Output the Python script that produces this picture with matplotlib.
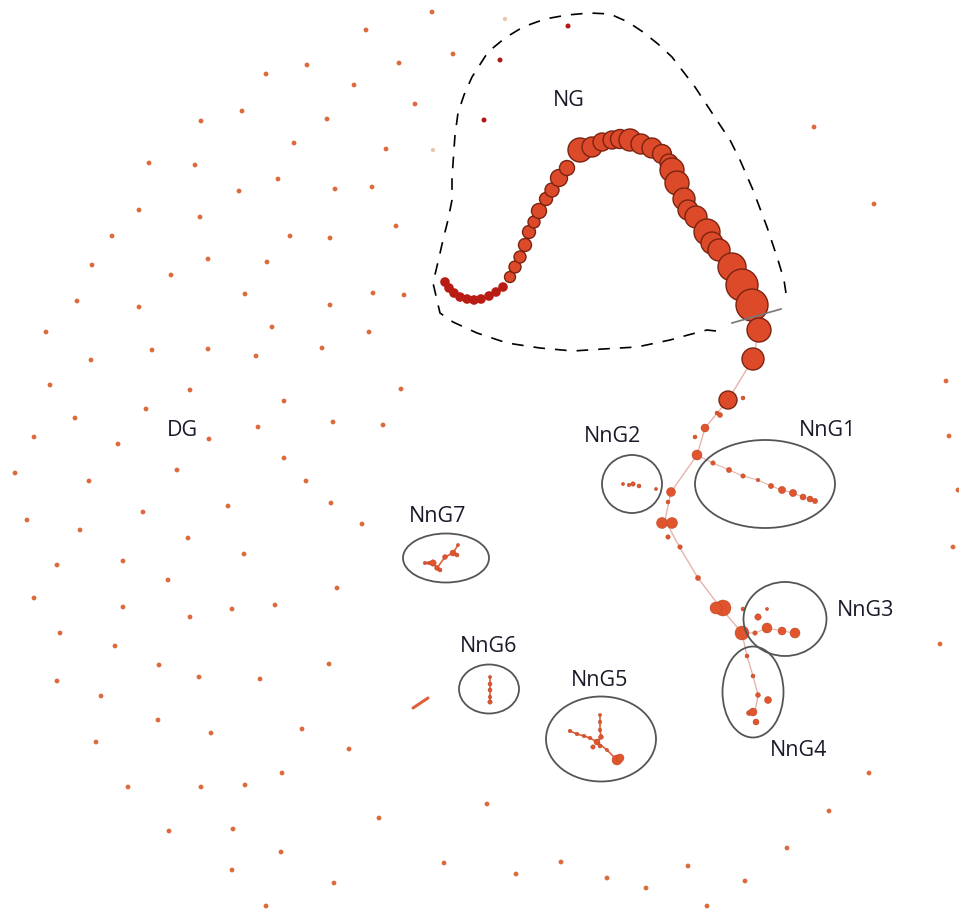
import numpy as np
import matplotlib
matplotlib.use('Agg')
from matplotlib import pyplot as plt
from matplotlib.patches import Ellipse

# positions are in picture pixels (x right, y down)
# scattered DG nodes
dg_x = [432,366,453,307,399,266,354,415,242,201,327,294,386,149,195,278,239,335,372,139,200,396,112,290,330,208,267,92,171,245,373,404,77,139,330,46,272,369,91,152,208,256,322,50,190,401,284,146,75,258,333,383,34,118,209,177,284,15,89,306,27,80,143,228,331,362,188,244,57,123,168,337,34,123,190,232,275,60,115,159,199,260,329,57,101,158,211,302,96,349,282,128,201,245,379,169,233,281,232,334,444,266,487,516,561,607,646,688,745,707,787,829,869,940,953,958,949,946,874,814]
dg_y = [12,30,54,65,63,74,85,104,111,121,119,143,149,163,165,179,191,189,187,210,217,226,236,236,238,259,262,265,275,294,293,295,301,307,305,332,327,332,360,350,349,356,348,385,390,389,401,409,418,427,422,425,437,444,439,470,458,473,481,481,520,530,512,506,503,524,538,554,565,561,580,588,598,607,617,609,605,633,646,665,677,679,664,681,696,720,733,729,742,749,773,787,787,785,818,831,829,852,870,883,863,906,804,874,862,878,888,866,881,906,848,811,773,644,547,490,436,381,204,127]
dg_r = [2.4]*len(dg_x)
# dark red strays inside NG
red_x = [568,500,484]
red_y = [26,60,120]
pale_x = [505,433]
pale_y = [19,150]

# NG tail (dark red) and chain
tail_x = [445,449,454,460,467,474,481,489,496,503]
tail_y = [282,288,293,297,299,300,299,296,292,287]
ng_x = [510,515,520,525,529,534,539,546,552,559,567,580,592,602,612,620,630,641,652,662,669,672,677,684,688,696,707,712,719,732,742,752,759,753,728]
ng_y = [277,267,257,245,232,222,211,199,190,178,168,150,147,142,140,139,140,144,148,154,163,170,183,199,210,217,232,243,250,267,285,305,330,359,400]
ng_r = [5.5,6,6,6.5,6.5,6,7.5,6.5,7,8.5,7.5,12,10,9,9,9.5,11,10,10,9.5,9,12,12,11,10,11,13,11,11,14,16,16,12,11,9]

# trunk below NG and sub-groups
trunk_x = [759,753,728,705,697,671,665,680,698,720,742,747,753,758,755]
trunk_y = [330,359,400,428,455,492,520,548,578,607,633,656,676,695,712]
trunk_nx = [743,720,717,705,695,697,671,668,662,672,668,680,698,723,716,742]
trunk_ny = [398,415,413,428,437,455,492,502,523,523,537,547,578,608,608,633]
trunk_nr = [2,2.5,2,4,2,5,4.5,2,5.5,5.5,2.2,2.2,2.5,8,6,7]

g1_x = [713,729,743,758,771,782,793,803,810,815]
g1_y = [463,470,476,480,486,490,493,497,499,501]
g1_r = [2.2,2.6,2.2,1.8,2.6,3.6,3.6,3,3,2.6]
g2_x = [623,629,633,639,656]
g2_y = [484,485,484,486,489]
g2_r = [1.6,1.8,2.2,2,1.6]
g3_x = [743,758,767,755,767,782,795]
g3_y = [609,617,609,633,628,631,633]
g3_r = [2,3.2,1.6,2.2,5,4,5]
g4_x = [747,753,758,768,749,753,756]
g4_y = [656,676,695,700,713,712,722]
g4_r = [2,2,2.4,3.5,2.5,4,3]
g5_x = [600,600,600,601,570,577,584,590,597,593,600,607,617,620]
g5_y = [715,722,730,737,731,734,736,738,742,747,746,750,760,758]
g5_r = [1.6,1.8,1.8,2.4,1.8,1.8,1.8,1.8,3,2.2,2,1.6,5,4]
g6_x = [490,490,490,490,490]
g6_y = [677,684,690,697,702]
g6_r = [1.6,2,2,1.8,2.2]
g7_x = [425,429,433,437,445,453,458,457,440]
g7_y = [563,563,563,568,557,553,545,555,570]
g7_r = [1.8,1.8,3.2,2.4,2.4,3,1.6,2,2]

# cluster outlines: center x, center y, width, height
ell_cx = [765,632,785,753,601,489,446]
ell_cy = [484,484,619,692,739,689,558]
ell_w = [140,60,83,61,110,60,86]
ell_h = [88,58,74,91,85,49,49]

labels = ['NG','DG','NnG1','NnG2','NnG3','NnG4','NnG5','NnG6','NnG7']
lab_x = [569,182,828,612,866,799,600,489,438]
lab_y = [100,431,431,437,610,750,681,647,516]

# NG dashed boundary
bnd_x = [716,707,688,670,637,603,573,540,507,477,453,440,433,438,443,448,452,452,455,458,464,472,488,505,523,545,567,590,610,628,643,658,672,695,718,730,740,753,767,778,784,787]
bnd_y = [331,330,335,340,347,349,351,348,343,333,322,313,283,262,240,220,200,178,135,113,95,77,52,38,27,19,15,13,14,22,32,44,57,87,122,140,160,190,227,260,280,300]

DPI = 100
W, H = 959, 911
fig = plt.figure(figsize=(W/DPI, H/DPI), dpi=DPI)
ax = fig.add_axes([0, 0, 1, 1])
ax.set_xlim(0, W)
ax.set_ylim(H, 0)
ax.axis('off')

def sz(r):
    # radius in px -> scatter size in pt^2
    return (2*np.asarray(r, float)*72/DPI)**2

edge_c = '#e6b3aa'
ax.plot(trunk_x, trunk_y, color=edge_c, lw=1, zorder=1)
ax.plot([697]+g1_x, [455]+g1_y, color=edge_c, lw=0.8, zorder=1)
ax.plot([742]+g3_x[3:], [633]+g3_y[3:], color=edge_c, lw=0.8, zorder=1)
ax.plot(g5_x[4:9], g5_y[4:9], color='#e0603a', lw=1.2, zorder=1)
ax.plot(g5_x[:4]+[597,607,617], g5_y[:4]+[742,750,760], color='#e0603a', lw=1.2, zorder=1)
ax.plot(g6_x, g6_y, color='#e0603a', lw=1.2, zorder=1)
ax.plot(g7_x[:7], g7_y[:7], color='#e0603a', lw=1.2, zorder=1)
ax.plot([413,428], [708,698], color='#e0603a', lw=2.2, solid_capstyle='round', zorder=1)

dot_c = '#dd6a3c'
ax.scatter(dg_x, dg_y, s=sz(dg_r), color=dot_c, lw=0, zorder=2)
ax.scatter(red_x, red_y, s=sz([2.5]*3), color='#b01a14', lw=0, zorder=2)
ax.scatter(pale_x, pale_y, s=sz([2.2]*2), color='#e8c8b0', lw=0, zorder=2)

grp_c = '#e0552e'
for gx, gy, gr in [(g1_x,g1_y,g1_r),(g2_x,g2_y,g2_r),(g3_x,g3_y,g3_r),(g4_x,g4_y,g4_r),
                   (g5_x,g5_y,g5_r),(g6_x,g6_y,g6_r),(g7_x,g7_y,g7_r),(trunk_nx,trunk_ny,trunk_nr)]:
    ax.scatter(gx, gy, s=sz(gr), color=grp_c, edgecolor='#b0401f', lw=0.3, zorder=3)

ax.scatter(tail_x, tail_y, s=sz([4.8]*len(tail_x)), color='#b81c12', lw=0, zorder=3)
ax.scatter(ng_x, ng_y, s=sz(ng_r), color='#dd4a2a', edgecolor='#7a2312', lw=1.0, zorder=4)

for cx, cy, w, h in zip(ell_cx, ell_cy, ell_w, ell_h):
    ax.add_patch(Ellipse((cx, cy), w, h, fill=False, ec='#555555', lw=1.3, zorder=5))

ax.plot(bnd_x, bnd_y, color='black', lw=1.2, ls=(0, (7, 6)), zorder=5)
ax.plot([732, 781], [323, 309], color='#777777', lw=1.2, zorder=5)

for t, x, y in zip(labels, lab_x, lab_y):
    ax.text(x, y, t, fontsize=15.5, family='Open Sans', ha='center', va='center',
            color='#1a1a2a', zorder=6)

fig.savefig('out.png', dpi=DPI, facecolor='white')
